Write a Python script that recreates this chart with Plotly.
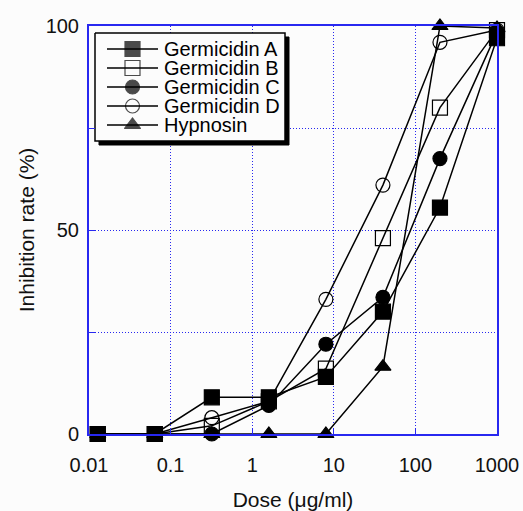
import plotly.graph_objects as go

dose = [0.0128, 0.064, 0.32, 1.6, 8, 40, 200, 1000]
germ_a = [0, 0, 9, 9, 14, 30, 55.5, 97]
germ_b = [0, 0, 2, 8, 16, 48, 80, 99]
germ_c = [0, 0, 0, 7, 22, 33.5, 67.5, 98.5]
germ_d = [0, 0, 4, 8, 33, 61, 96, 99]
hypnosin = [0, 0, 0, 0, 0, 16.5, 100, 99.5]

names = ["Germicidin A", "Germicidin B", "Germicidin C", "Germicidin D", "Hypnosin"]
values = [germ_a, germ_b, germ_c, germ_d, hypnosin]
symbols = ["square", "square-open", "circle", "circle-open", "triangle-up"]
sizes = [15, 15, 14, 14, 14]

fig = go.Figure()
for name, vals, sym, sz in zip(names, values, symbols, sizes):
    fig.add_trace(go.Scatter(
        x=dose, y=vals, name=name, mode="lines+markers",
        line=dict(color="black", width=1.5),
        marker=dict(symbol=sym, size=sz, color="black",
                    line=dict(color="black", width=1.2)),
        cliponaxis=False, showlegend=False,
    ))

W, H = 523, 511
# plot area in page pixels
L, R, T, B = 89, 497, 26, 434
box_l, box_t, box_r, box_b = 95, 33, 285, 141
shadow = 4
row0, pitch = 49, 19
seg_l, seg_r, txt_x = 107, 158, 162

def rect(x0, y0, x1, y1):
    return [x0, x1, x1, x0, x0], [y0, y0, y1, y1, y0]

sx, sy = rect(box_l + shadow, box_t + shadow, box_r + shadow, box_b + shadow)
fig.add_trace(go.Scatter(x=sx, y=sy, xaxis="x2", yaxis="y2", mode="lines",
                         fill="toself", fillcolor="black", line=dict(color="black", width=1),
                         showlegend=False, hoverinfo="skip"))
bx, by = rect(box_l, box_t, box_r, box_b)
fig.add_trace(go.Scatter(x=bx, y=by, xaxis="x2", yaxis="y2", mode="lines",
                         fill="toself", fillcolor="#fcfcfc", line=dict(color="black", width=1.5),
                         showlegend=False, hoverinfo="skip"))

for i, (name, sym, sz) in enumerate(zip(names, symbols, sizes)):
    yy = row0 + i * pitch
    fig.add_trace(go.Scatter(
        x=[seg_l, (seg_l + seg_r) / 2, seg_r], y=[yy, yy, yy],
        xaxis="x2", yaxis="y2", mode="lines+markers",
        line=dict(color="black", width=1.5),
        marker=dict(symbol=sym, size=[0, sz, 0], color="black",
                    line=dict(color="black", width=1.2)),
        showlegend=False, hoverinfo="skip"))
    fig.add_annotation(x=txt_x, y=yy, xref="x2", yref="y2", text=name,
                       showarrow=False, xanchor="left", yanchor="middle",
                       font=dict(size=20, color="black"))

blue = "#2828f0"
fig.update_layout(
    width=W, height=H,
    margin=dict(l=L, r=W - R, t=T, b=H - B, autoexpand=False),
    paper_bgcolor="#fcfcfc", plot_bgcolor="#fcfcfc",
    font=dict(family="Liberation Sans, Arial, sans-serif", color="#111", size=20),
    showlegend=False,
    xaxis=dict(type="log", range=[-2, 3], automargin=False,
               tickvals=[0.01, 0.1, 1, 10, 100, 1000],
               ticktext=["0.01", "0.1", "1", "10", "100", "1000"],
               showgrid=True, gridcolor=blue, griddash="1px,2px", gridwidth=1,
               showline=True, linecolor=blue, linewidth=2, mirror=True,
               ticks="inside", tickcolor=blue, ticklen=6, ticklabelstandoff=12,
               title=dict(text="Dose (μg/ml)", font=dict(size=21), standoff=21),
               tickfont=dict(size=20), zeroline=False),
    yaxis=dict(range=[0, 100], automargin=False,
               tickvals=[0, 25, 50, 75, 100],
               ticktext=["0", "", "50", "", "100"],
               showgrid=True, gridcolor=blue, griddash="1px,2px", gridwidth=1,
               showline=True, linecolor=blue, linewidth=2, mirror=True,
               ticks="inside", tickcolor=blue, ticklen=6, ticklabelstandoff=4,
               title=dict(text="Inhibition rate (%)", font=dict(size=21), standoff=5),
               tickfont=dict(size=20), zeroline=False),
    xaxis2=dict(overlaying="x", range=[L, R], visible=False, showgrid=False,
                anchor="y2", automargin=False),
    yaxis2=dict(overlaying="y", range=[B, T], visible=False, showgrid=False,
                anchor="x2", automargin=False),
)
fig.write_html("out.html", config={"displayModeBar": False},
               post_script="document.body.style.margin='0';document.body.style.overflow='hidden';")
